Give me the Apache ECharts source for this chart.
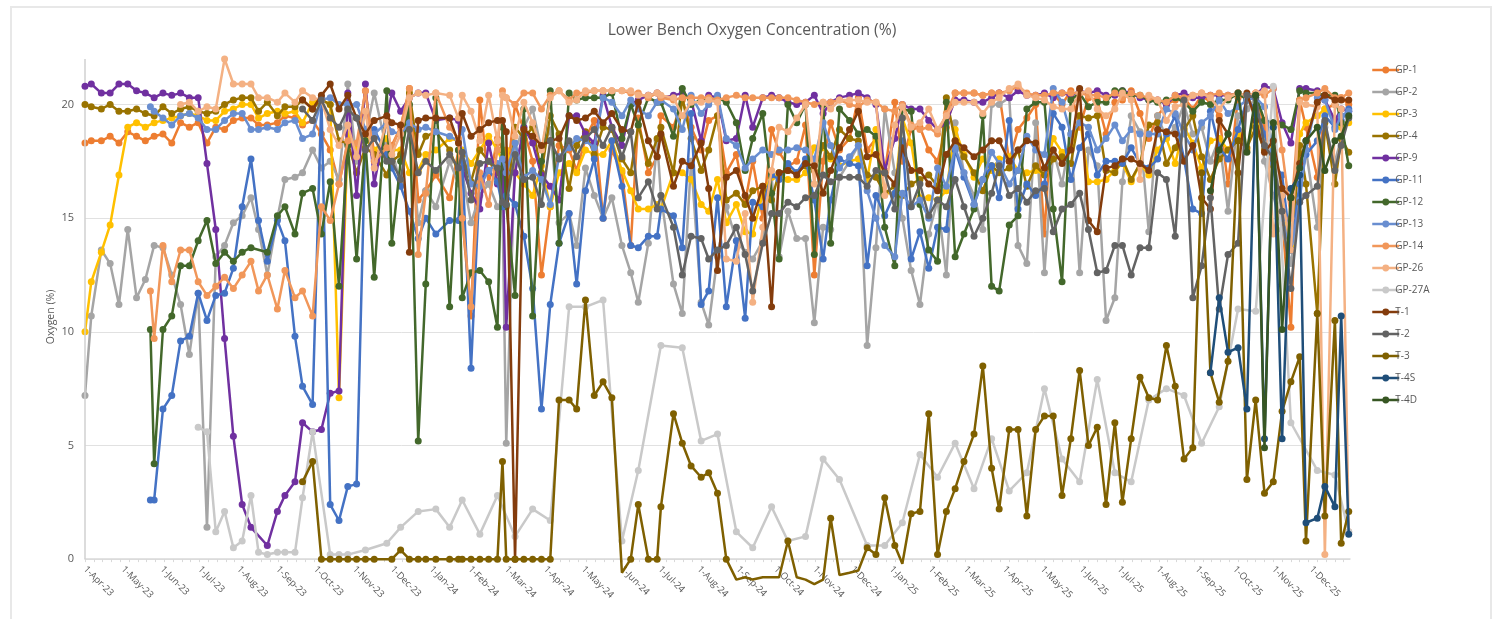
<!DOCTYPE html>
<html><head><meta charset="utf-8">
<style>
html,body{margin:0;padding:0;background:#fff;overflow:hidden}
#frame{position:absolute;left:10px;top:6px;width:1482px;height:700px;border:2px solid #e8e8e8;box-sizing:border-box}
#main{position:absolute;left:0;top:0;width:1503px;height:619px}
</style>
<script src="https://cdn.jsdelivr.net/npm/echarts@6/dist/echarts.min.js"></script>
</head><body>
<div id="frame"></div><div id="main"></div>
<script>
const n = null;
const names = ['GP-1','GP-2','GP-3','GP-4','GP-9','GP-11','GP-12','GP-13','GP-14','GP-26','GP-27A','T-1','T-2','T-3','T-4S','T-4D'];
const tickLabels = ['1-Apr-23','1-May-23','1-Jun-23','1-Jul-23','1-Aug-23','1-Sep-23','1-Oct-23','1-Nov-23','1-Dec-23','1-Jan-24','1-Feb-24','1-Mar-24','1-Apr-24','1-May-24','1-Jun-24','1-Jul-24','1-Aug-24','1-Sep-24','1-Oct-24','1-Nov-24','1-Dec-24','1-Jan-25','1-Feb-25','1-Mar-25','1-Apr-25','1-May-25','1-Jun-25','1-Jul-25','1-Aug-25','1-Sep-25','1-Oct-25','1-Nov-25','1-Dec-25'];
// sampling days, counted from 1-Apr-23
const sampleDays = [0,5,13,20,27,34,41,48,52,55,62,69,76,83,90,97,104,111,118,125,132,138,145,153,159,167,173,181,188,
195,202,209,216,223,230,240,244,251,258,265,271,279,290,297,300,307,314,321,328,
332,335,342,349,356,363,370,377,385,391,398,405,412,419,427,434,440,448,455,458,468,475,482,490,496,503,510,
518,525,531,539,546,552,559,566,573,580,587,593,600,608,615,622,629,636,644,650,657,664,671,678,685,692,699,707,714,721,727,
735,742,749,756,763,770,777,784,791,798,805,812,819,825,832,839,846,853,860,867,874,881,888,895,902,909,917,924,931,938,945,952,959,966,971,980,986,994,999,1005];

const gp1 = [18.3,18.4,18.4,18.6,18.3,18.8,18.6,18.4,n,18.6,18.7,18.3,19.2,19,19.2,18.3,19,18.9,19.3,19.4,19.4,19.1,19.1,19.2,19.5,19.4,19.1,19.3,18.7,
18,16.5,18.3,18,20.6,17.8,18.3,18.2,19,20.7,15.8,16.2,16.9,15.9,18,15,10.7,20.2,16.5,18.5,
18,16.5,20,18.9,17.5,12.5,15.5,18.2,18,17.1,18.5,19.3,15,18,17,13.8,19.4,17,17.7,19.5,19,20.2,19,18,19.3,19.5,17,
17.8,15.7,17.5,15,18.9,17.9,17.3,17.5,19.1,12.5,17.5,19.2,18,18.5,20.3,18,18.5,17,20.1,17.5,18.9,19,18,17.5,19,20.5,20.5,20.5,20.4,20.5,20.5,
17.5,18.9,19.4,20,14.3,20.5,20,20.6,19,20.3,20.2,18.7,20.1,20.2,20.6,19.6,18.5,19.5,20,20.2,20.3,19.8,20.4,20.1,19.5,16.5,20.3,20.4,20.5,19,18,15,10.2,20.2,19,16.8,19.8,20,20.3,20];
const gp2 = [7.2,10.7,13.6,13,11.2,14.5,11.5,12.3,n,13.8,13.7,12.5,11.2,9,11.7,1.4,13.3,13.8,14.8,15.1,15.9,14.5,12.5,15,16.7,16.8,17,18,17.2,
17.5,16.7,20.9,17.5,18.6,20.5,18,18,16.5,19,14.8,16.2,15.5,17.5,16.5,17,14.8,16,16.5,15.5,
15.5,5.1,18,19,19.8,18,18.9,14.8,15.2,13.8,17.2,16,15,15.9,13.8,12.6,11.3,13.9,18.4,16,12.1,10.8,17.5,11.3,10.3,13.3,15.5,
14,13.5,13.2,14,16.8,13.3,15.3,14.1,14.1,10.4,14.6,14.5,16.8,17.5,18.2,9.4,13.7,19.8,17,15,12.7,11.2,14.3,15.8,12.5,19.2,17,16,14.5,20,20,
20.3,13.8,13,19.2,12.6,18,16.5,18.7,12.6,18,17.3,10.5,11.5,16.6,19.5,18.8,14.4,19.5,18.5,19,20,18.7,19,17.5,18.5,15.3,19.5,19.8,20.3,17.5,16,14.5,13,16,18,14.6,19,17.5,18.5,19.5];
const gp3 = [10,12.2,13.5,14.7,16.9,19,19.2,19,n,19.2,19.3,19.4,19.5,19.6,19.5,19.3,19.3,19.7,19.8,20,20,19.4,19.6,19.7,19.6,19.7,19.2,20.1,20.2,
20,7.1,18.7,18,18.5,18,18.5,18,18,17,17.1,17.8,18,18.5,18.4,18,17.4,18,18.6,18,
17.5,18,17,16.5,16,17.3,15.5,17,17.4,17,18,17.8,17.8,18.4,17.1,16.2,15.4,15.4,15.6,15.4,17,17,16.7,15.6,15.3,16.7,14.8,
15.6,14.4,14.3,16.1,16.8,16.9,16.7,16.7,17,18.1,18.1,17.6,17.3,17.5,17.6,16.7,18.9,16.1,16.1,19.4,18.3,15.9,15.9,15.8,16.2,18.9,17.8,16.8,17.6,17.1,17.6,
17.7,17.1,17,17.1,16.9,18.5,17.9,18.1,19.5,16.6,16.6,16.7,17.1,17.4,16.6,17.4,16.9,18,18.5,17.4,19,18.3,17.2,18.4,18.5,18,18.7,18,19.8,18.3,18,15.8,13.7,18.7,19.2,19.5,19.8,19.3,19,19.2];
const gp4 = [20,19.9,19.8,20,19.7,19.7,19.8,19.6,n,19.5,19.9,19.6,19.8,19.9,19.7,19.6,19.7,20,20.2,20.3,20.3,19.7,20.1,19.5,19.9,19.9,20.2,19.8,20.2,
20,18.4,18.3,17,18.1,17.8,16.9,17.5,17.8,20.5,17.8,18.6,18.8,18,17,17.8,16.6,18,17.5,17,
17,15.5,19,18.5,19,17,19.5,18.7,16.3,18.2,18.8,17.8,19,18.9,17.6,17,19.1,17.4,18.5,19,17,20.3,18.5,17.1,18,19.5,15.8,
16.1,15.6,16.2,16.4,15.8,17,17.1,17,17.3,17.1,18.2,17.7,18.9,18.5,18.4,16.9,16.8,16.1,16.4,16,16.5,16.7,16.9,16.4,20.3,18.4,17.7,17,16.2,17.3,17,
17.2,18,16.4,17.3,16.9,17.6,17.7,17.4,19.5,19.4,19.5,17.1,17,17.6,16.7,17.4,19.1,19.2,17.4,18.1,18.9,19.5,17.7,16.7,17.6,18,18.4,18.1,19,18,17.3,15,13.6,18.2,16.5,10.8,19.2,16.5,18.5,17.9];
const gp9 = [20.8,20.9,20.5,20.5,20.9,20.9,20.6,20.5,n,20.3,20.5,20.4,20.5,20.3,20.3,17.4,14.5,9.7,5.4,2.4,1.4,n,.6,2.1,2.8,3.4,6,5.6,5.7,
7.3,7.4,20.5,16,20.9,16.5,n,20.5,19.7,20.3,20.5,20.5,19.3,19.4,19.3,17.2,16.1,15.4,18.3,16.5,
17.5,10.2,17,19,18.3,16.9,16.4,15.8,19.5,19.5,18.7,18.3,20.4,19,18.2,20,20.2,20.4,20.5,20.3,20.4,20.5,20.2,18.4,20.4,20.3,18.4,
18.5,20.4,19,20.3,20.4,20.3,20.1,20,20.1,20.4,19.6,20.1,20.3,20.4,20.5,20.3,20,17.1,18.5,20,19.8,19.8,19.3,18.9,19.2,20.2,20.2,20.1,20.1,20.3,20.5,
20.3,20.6,20.4,20.4,20.5,20.3,20.5,20.4,20.6,20.5,20.6,20.4,20.4,20.6,20.5,20.3,20.2,20.2,20,20.4,20.5,20.3,20.3,20.4,20.4,20.4,20.5,20.3,20.4,20.8,20.7,19.2,18.3,20.7,20.7,20.6,20.2,19.3,19.8,19.7];
const gp11 = [n,n,n,n,n,n,n,n,2.6,2.6,6.6,7.2,9.6,9.8,11.7,10.5,11.6,11.7,12.8,15.5,17.6,14.9,13.1,14.9,14,9.8,7.6,6.8,20.3,
2.4,1.7,3.2,3.3,18.7,18.9,17.8,17.2,16.4,15.3,14.1,15,14.3,14.9,14.9,17.5,8.4,16.8,17.1,16.6,
15.5,16,15.6,14.2,11.9,6.6,11.2,13.9,15.2,12.1,16.2,17.6,15,18.4,16.4,13.8,13.7,14.2,14.2,15.4,15.1,13.7,19.6,11.2,11.8,15.9,11.1,
14,10.6,15.7,15.5,16.9,16.7,17.4,17,17.6,15.8,13.2,15.8,17.6,17.4,17.3,12.9,16,15.1,16.1,18.4,13.2,14.4,12.8,14.6,14.5,18,16.8,15.6,16.7,17.3,15.9,
19.3,15.4,16.5,16,16.5,19.6,19,16.7,18.1,18.7,16.9,17.5,17.5,17.4,18.1,17.4,17.2,17.6,18.7,19.5,17.6,15.4,15.2,19.7,18.1,17.6,18.9,20.2,19.8,18.7,17.4,16.9,13.6,16.5,17.8,18.4,19.5,19,19.3,19.8];
const gp12 = [n,n,n,n,n,n,n,n,10.1,4.2,10.1,10.7,12.9,12.9,14,14.9,13,13.5,13.1,13.5,13.7,n,13.5,15.1,15.5,14.3,16.1,16.3,14.3,
16.6,12,18.2,13.2,18.4,12.4,20.6,13.9,17.5,20,5.2,12.1,20.3,11.1,18,11.5,12.6,12.7,12.2,10.2,
19,15.6,11.6,19.8,10.7,17.5,20.6,13.9,20.5,20.2,20.3,20.3,20.3,20.5,18.5,20,19.1,20.3,20.1,20.1,18.6,20.7,20,20.2,20.2,20.3,20.1,
19.2,17.1,18.5,19.6,16.1,13.2,20,19.2,20,13.4,20,13.9,19.8,19.3,18.7,18.9,18.6,14.6,12.9,19.8,19.7,15.6,13.6,13.1,20.1,13.3,14.3,15.4,19.5,12,11.8,
14.7,15.1,19.8,20.1,20.1,15.4,12.2,20.2,20.5,19.9,20.1,20.1,20.6,20.6,20.4,20.4,20.2,20.1,20.2,20.3,20.1,19.7,20.1,20,20.2,20.2,20.5,20.2,20.4,19.3,19.2,19.1,18.9,20.6,20.5,20.5,20.4,20.4,19.2,17.3];
const gp13 = [n,n,n,n,n,n,n,n,19.9,19.7,19.4,19.1,19.5,19.6,19.4,18.9,18.9,19.3,19.6,19.6,18.9,18.9,19,18.9,19.2,19.3,18.5,18.7,20.2,
20.3,20,20,20,18.9,18.7,19.2,18.8,18.7,19.2,18.9,19,18.8,18.6,18.4,18.9,16.5,16.4,17.1,17.4,
17.6,17,18.3,16.8,17.1,16.7,15.6,17.7,18.1,18.5,18.4,18.1,20.3,20.1,19.5,20.2,19.8,19.5,20.1,20.2,19.8,18.9,20.4,19.6,20,20.4,18.5,
18.2,17.2,17.6,18,17.8,18,18,18.1,18,17.6,19.2,18.2,17.2,17.7,18.2,16.2,15,13.8,13.3,16.1,15.5,15.8,15,17.2,16.4,18.1,17,15.6,16.7,17.9,17.4,
16.5,17.1,18.6,18,17.8,20.7,20.1,18.7,19.2,19,18,18.5,19.1,18.4,18.9,18.7,18.7,18.7,19.8,19.6,18.7,18,19.2,19.5,20.2,19.6,19.9,20.2,20.3,19.9,18,15,13.6,15.8,18,20.3,20.2,18.9,19.5,19.7];
const gp14 = [n,n,n,n,n,n,n,n,11.8,9.7,13.8,12.2,13.6,13.6,12.2,11.6,12,12.4,11.9,12.5,13.1,11.8,12.5,11,12.7,11.5,11.8,10.7,15.5,
14.9,16.5,18.4,18.3,20.6,17.5,18.1,18.1,19,20.7,13.4,16.1,20.5,19,18.5,15,11.1,17,15.6,18,
20.6,20.3,20,20.5,20.5,19.8,20.4,20.6,20.2,20.5,20.5,20.6,20.6,20.6,20.6,20.5,20.5,20.3,20.5,20.3,20.2,20.3,20.3,20.3,20.3,20.2,20.3,
20.4,20.3,20.3,20.3,20.3,20.3,20.3,20.2,20.1,20,20.1,20.1,20.2,20,19.9,20.2,20.1,19.8,19.7,20,19.1,18.9,19,18.7,19.6,20.5,20.5,20.5,20.4,20.5,20.5,
20.6,20.8,20.5,20.4,20.4,20.5,20.5,20.5,20.5,20.4,20.4,20.3,20.5,20.3,20.5,20.4,20.3,20.2,20.1,20.4,20.3,20.4,20.5,20.4,20.5,20.4,20.5,20.4,20.5,20.4,20.7,18,15,20.2,20.3,20.5,20.7,20.3,20.3,20.5];
const gp26 = [n,n,n,n,n,n,n,n,n,n,n,n,20,20.1,19.7,19.9,19.8,22,20.9,20.9,20.9,20.3,20.3,20.1,20.5,20.1,20.6,20.3,20.2,
18.9,18.2,19.1,17.7,19.7,17.2,19.3,17.8,18.7,20.3,20.5,20.4,20.5,20.4,19.4,20.4,19.7,18.4,20.4,18.4,
20.4,20.3,18.6,20.1,19.2,18,20.3,20.6,20.1,20.2,20.6,20.6,20.6,20.6,20.6,20.6,20.4,20.4,20.5,20.4,20.3,19.5,20.1,20.1,20.2,20.1,13.2,
13.1,15.2,11.3,14.6,17.1,19,18.8,19.4,20,16.5,20.1,19.8,20.2,20.2,20.2,20.1,20.1,16,19.1,19.9,19,19.2,19.8,18.9,19.5,20.1,20.1,20.1,19.6,20.1,20.3,
20.7,20.9,20.4,20.3,20.2,19.9,19.8,19.8,20.5,20.6,19.8,19.5,19.8,20.5,20.2,16.7,20.4,20.2,19.3,19.9,20,20.4,20.5,20.3,19.8,20.3,20.5,20.4,20.5,20.6,14.3,16,13.6,20.1,20,19.9,.2,20,19.8,1.2];
const gp27a = [n,n,n,n,n,n,n,n,n,n,n,n,n,n,5.8,5.6,1.2,2.1,.5,.8,2.8,.3,.2,.3,.3,.3,2.7,5.6,n,
.2,.2,.2,n,.4,n,.7,n,1.4,n,2.1,n,2.2,1.4,n,2.6,n,1.1,n,2.8,
n,n,1,n,2.2,n,1.7,n,11.1,n,11.1,n,11.4,n,.8,n,3.9,n,n,9.4,n,9.3,n,5.2,n,5.5,n,
1.2,n,.5,n,2.3,n,.8,n,1,n,4.4,n,3.5,n,n,.6,n,.6,n,1.6,n,4.6,n,3.6,n,5.1,n,3.1,n,5.3,n,
3,n,3.8,n,7.5,n,4.4,n,3.4,n,7.9,n,3.8,n,3.4,n,7,n,7.5,n,7.2,n,5.1,n,6.7,n,11,n,10.9,n,20.8,n,6,n,n,3.9,n,3.7,n,1.2];
const t1 = [n,n,n,n,n,n,n,n,n,n,n,n,n,n,n,n,n,n,n,n,n,n,n,n,n,n,20.2,19.8,20.4,
20.9,19.8,20.4,19.4,18.7,19.3,19.5,19.2,19.1,13.5,19.3,19.4,19.4,19.4,18.3,19.6,18.6,18.9,19.2,19.3,
19.3,18.8,0,18.9,18.6,18.2,18.4,18.5,19.5,19.3,19.4,19.7,19.2,19.6,18.9,18.8,20.1,18.4,17.7,18.7,16.4,17.5,17.3,18.3,16.3,12.7,16.8,
17.1,16,15,16.4,11.1,17,17.1,16.9,17.4,17.3,16.1,17.1,18.1,18.9,19.7,17.7,17.8,17,16.5,18.1,17.1,17.1,16.5,16.2,17.8,18.4,18.1,17.7,18,18.4,18.4,
17.5,18,18.4,18.3,17.2,18,17.4,18,20.7,14.9,14.4,17.2,17.3,17.6,17.6,17.4,17.1,18.9,18.8,18.7,17.5,18.2,15.9,15.4,19.3,18.7,17,20.5,19.3,17.9,18.4,16.3,15.9,17.4,18.4,20.1,20.4,20.2,20.2,20.2];
const t2 = [n,n,n,n,n,n,n,n,n,n,n,n,n,n,n,n,n,n,n,n,n,n,n,n,n,n,19.8,19.3,20.2,
19.4,19,19.8,19.4,18,18.5,17.5,17.5,16.7,18.9,17,17.5,17.1,17.8,17.2,17.9,15.8,17.4,17.5,17.2,
15.7,15.6,17.8,16.7,16.8,15.6,18.4,17.6,18.4,17.7,18.5,18.9,18.2,19,17.7,18.8,15.9,16.6,15.4,16,14.6,12.5,14.2,14.1,13.2,13.6,13.8,
14.6,13.4,11.8,13.9,15.2,15.2,15.7,15.5,15.9,16,16.9,16.6,16.8,16.8,16.8,16.4,17.1,17,15.4,19.4,15.5,16.5,15.1,15.8,15.5,16.7,15.5,14.2,15,16.1,17.3,
16,16.3,15.7,16.2,16.3,14.4,15.4,15.6,16.1,14.5,12.6,12.7,13.8,13.8,12.5,13.7,13.7,17,16.7,14.2,20.2,11.5,12.9,15.9,11,13.4,13.9,20.4,20.3,18.2,17.6,15.3,11.9,15.7,16,16.4,19.3,17.1,18.2,19.4];
const t3 = [n,n,n,n,n,n,n,n,n,n,n,n,n,n,n,n,n,n,n,n,n,n,n,n,n,n,3.4,4.3,0,
0,0,0,0,0,0,n,0,.4,0,0,0,0,0,0,0,0,0,0,0,
4.3,0,0,0,0,0,0,7,7,6.6,11.4,7.2,7.8,7.1,-.6,0,2.4,0,0,2.3,6.4,5.1,4.1,3.6,3.8,2.9,0,
-.9,-.8,-.9,-.8,-.8,-.8,.8,-.8,-.9,-1.1,-.9,1.8,-.7,-.6,-.5,.5,.2,2.7,.6,-.2,2,2.1,6.4,.2,2.1,3.1,4.3,5.5,8.5,4,2.2,
5.7,5.7,1.9,5.7,6.3,6.3,2.8,5.3,8.3,5,5.8,2.4,6,2.5,5.3,8,7.1,7,9.4,7.6,4.4,4.9,17,8.2,6.9,8.7,18.4,3.5,7,2.9,3.4,6.5,7.8,8.9,.8,10.8,1.9,10.5,.7,2.1];
const t4s = [n,n,n,n,n,n,n,n,n,n,n,n,n,n,n,n,n,n,n,n,n,n,n,n,n,n,n,n,n,
n,n,n,n,n,n,n,n,n,n,n,n,n,n,n,n,n,n,n,n,
n,n,n,n,n,n,n,n,n,n,n,n,n,n,n,n,n,n,n,n,n,n,n,n,n,n,n,
n,n,n,n,n,n,n,n,n,n,n,n,n,n,n,n,n,n,n,n,n,n,n,n,n,n,n,n,n,n,n,
n,n,n,n,n,n,n,n,n,n,n,n,n,n,n,n,n,n,n,n,n,n,n,8.2,11.5,9.1,9.3,6.6,20.4,5.3,19,5.3,16.3,16.9,1.6,1.8,3.2,2.3,10.7,1.1];
const t4d = [n,n,n,n,n,n,n,n,n,n,n,n,n,n,n,n,n,n,n,n,n,n,n,n,n,n,n,n,n,
n,n,n,n,n,n,n,n,n,n,n,n,n,n,n,n,n,n,n,n,
n,n,n,n,n,n,n,n,n,n,n,n,n,n,n,n,n,n,n,n,n,n,n,n,n,n,n,
n,n,n,n,n,n,n,n,n,n,n,n,n,n,n,n,n,n,n,n,n,n,n,n,n,n,n,n,n,n,n,
n,n,n,n,n,n,n,n,n,n,n,n,n,n,n,n,n,n,n,n,n,n,n,16.2,18,18.7,20.5,17.9,20.4,4.9,19.2,10.1,15.9,17.2,18.4,19,17.1,18.4,18.6,19.5];
const seriesValues = [gp1,gp2,gp3,gp4,gp9,gp11,gp12,gp13,gp14,gp26,gp27a,t1,t2,t3,t4s,t4d];
const colors = ['#ED7D31','#A5A5A5','#FFC000','#997300','#7030A0','#4472C4','#43682B','#698ED0','#F1975A','#F4B183','#C9C9C9','#843C0C','#636363','#7F6000','#1F4E79','#375623'];

const mons = {Jan:0,Feb:1,Mar:2,Apr:3,May:4,Jun:5,Jul:6,Aug:7,Sep:8,Oct:9,Nov:10,Dec:11};
const parseLabel = s => { const p = s.split('-'); return new Date(2000 + +p[2], mons[p[1]], +p[0]).getTime(); };
const dayToTime = d => new Date(2023, 3, 1 + d).getTime();
const monthTicks = tickLabels.map(parseLabel);
const labelByTime = {}; tickLabels.forEach((s, i) => labelByTime[monthTicks[i]] = s);
const xMin = dayToTime(0), xMax = dayToTime(1006);
const weekTicks = []; for (let d = 0; d <= 1006; d += 7) weekTicks.push(dayToTime(d));

const font = '"Open Sans","Noto Sans",sans-serif';
const series = names.map((name, i) => ({
  name, type: 'line', color: colors[i], showSymbol: true, showAllSymbol: true, symbol: 'circle', symbolSize: 7,
  lineStyle: { width: 2.5, color: colors[i] }, itemStyle: { color: colors[i] }, connectNulls: true, z: 2 + i,
  emphasis: { disabled: true }, silent: true, animation: false,
  data: sampleDays.map((d, k) => seriesValues[i][k] === null ? null : (seriesValues[i][k] < 0
      ? { value: [dayToTime(d), seriesValues[i][k]], symbol: 'none' }
      : { value: [dayToTime(d), seriesValues[i][k]] })).filter(p => p !== null)
}));
// vertical axis rule, from 0 to the top of the scale
series[0].markLine = { silent: true, symbol: 'none', animation: false, label: { show: false }, lineStyle: { color: '#d0d0d0', width: 1.5, type: 'solid' },
  data: [[{ coord: [xMin, 0] }, { coord: [xMin, 22] }]] };

const chart = echarts.init(document.getElementById('main'), null, { renderer: 'canvas' });
chart.setOption({
  animation: false, backgroundColor: 'transparent',
  title: { text: 'Lower Bench Oxygen Concentration (%)', left: 747, top: 18, textAlign: 'center',
    textStyle: { fontFamily: font, fontSize: 15.7, fontWeight: 'normal', color: '#595959' } },
  legend: { orient: 'vertical', left: 1366, top: 58, itemWidth: 27, itemHeight: 8.5, itemGap: 8, itemStyle: { borderWidth: 0 }, lineStyle: { width: 2.5 },
    selectedMode: false, data: names,
    textStyle: { fontFamily: font, fontSize: 10, color: '#595959', padding: [0, 0, 0, -9], lineHeight: 14, height: 14 } },
  graphic: [{ type: 'text', x: 51, y: 317, rotation: Math.PI / 2,
    style: { text: 'Oxygen (%)', align: 'center', verticalAlign: 'middle', fontFamily: font, fontSize: 10.5, fill: '#595959' } }],
  grid: { left: 85, right: 153, top: 59, bottom: -53.8, outerBoundsMode: 'none' },
  xAxis: { type: 'value', min: xMin, max: xMax, position: 'bottom', scale: true,
    axisLine: { onZero: true, lineStyle: { color: '#d9d9d9', width: 1.5 } },
    axisTick: { show: true, length: 3, customValues: weekTicks, lineStyle: { color: '#d9d9d9', width: 1 } },
    minorTick: { show: false }, splitLine: { show: false },
    axisLabel: { customValues: monthTicks, rotate: -45, margin: -105, fontFamily: font, fontSize: 9.5, color: '#595959',
      hideOverlap: false, showMinLabel: true, showMaxLabel: true,
      formatter: v => labelByTime[v] || '' } },
  yAxis: { type: 'value', min: -5, max: 22, interval: 5,
    axisLine: { show: false }, axisTick: { show: false },
    splitLine: { show: true, showMinLine: false, showMaxLine: false, lineStyle: { color: '#e1e1e1', width: 1 } },
    axisLabel: { margin: 11, fontFamily: font, fontSize: 11, color: '#595959', formatter: v => (v < 0 || v > 20) ? '' : String(v) } },
  series
});
</script>
</body></html>
